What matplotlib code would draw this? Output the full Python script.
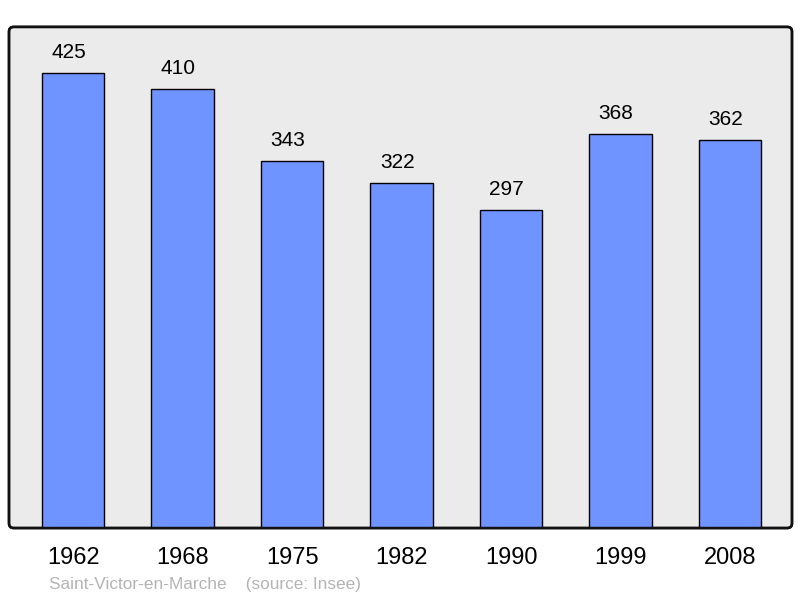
import matplotlib.pyplot as plt
from matplotlib.patches import FancyBboxPatch

plt.rcParams['font.family'] = ['Liberation Sans', 'DejaVu Sans']

YEARS = ["1962", "1968", "1975", "1982", "1990", "1999", "2008"]
POPULATION = [425, 410, 343, 322, 297, 368, 362]
COMMUNE = "Saint-Victor-en-Marche"
SOURCE = "(source: Insee)"

fig = plt.figure(figsize=(8, 5.98), dpi=100)
ax = fig.add_axes([0.01125, 0.117, 0.97875, 0.838])

x = range(len(YEARS))
ax.bar(x, POPULATION, width=0.57, color="#7094ff", edgecolor="black",
       linewidth=1.0, zorder=2)

# labels sit a little left of the bar centre, like the original
for i, v in zip(x, POPULATION):
    ax.annotate(str(v), (i, v), xytext=(-3.2, 10.8), textcoords="offset points",
                ha="center", va="baseline", fontsize=15)

ax.set_xlim(-0.585, 6.565)
ax.set_ylim(0, 468)
ax.set_xticks(list(x))
ax.set_xticklabels(YEARS, fontsize=17)
ax.tick_params(axis="x", length=0, pad=14)
ax.set_yticks([])

# rounded frame instead of plain spines
ax.patch.set_visible(False)
for s in ax.spines.values():
    s.set_visible(False)
frame = FancyBboxPatch((0, 0), 1, 1, boxstyle="round,pad=0,rounding_size=0.006",
                       mutation_aspect=783 / 501, transform=ax.transAxes,
                       facecolor="#ebebeb", edgecolor="#111111", linewidth=1.8,
                       zorder=0, clip_on=False)
ax.add_patch(frame)
frame2 = FancyBboxPatch((0, 0), 1, 1, boxstyle="round,pad=0,rounding_size=0.006",
                        mutation_aspect=783 / 501, transform=ax.transAxes,
                        facecolor="none", edgecolor="#111111", linewidth=1.8,
                        zorder=3, clip_on=False)
ax.add_patch(frame2)

fig.text(49 / 800, 1 - 584.5 / 598, COMMUNE + "    " + SOURCE, color="#b4b4b4",
         fontsize=12.4, ha="left", va="center")

fig.savefig("out.png", dpi=100)
